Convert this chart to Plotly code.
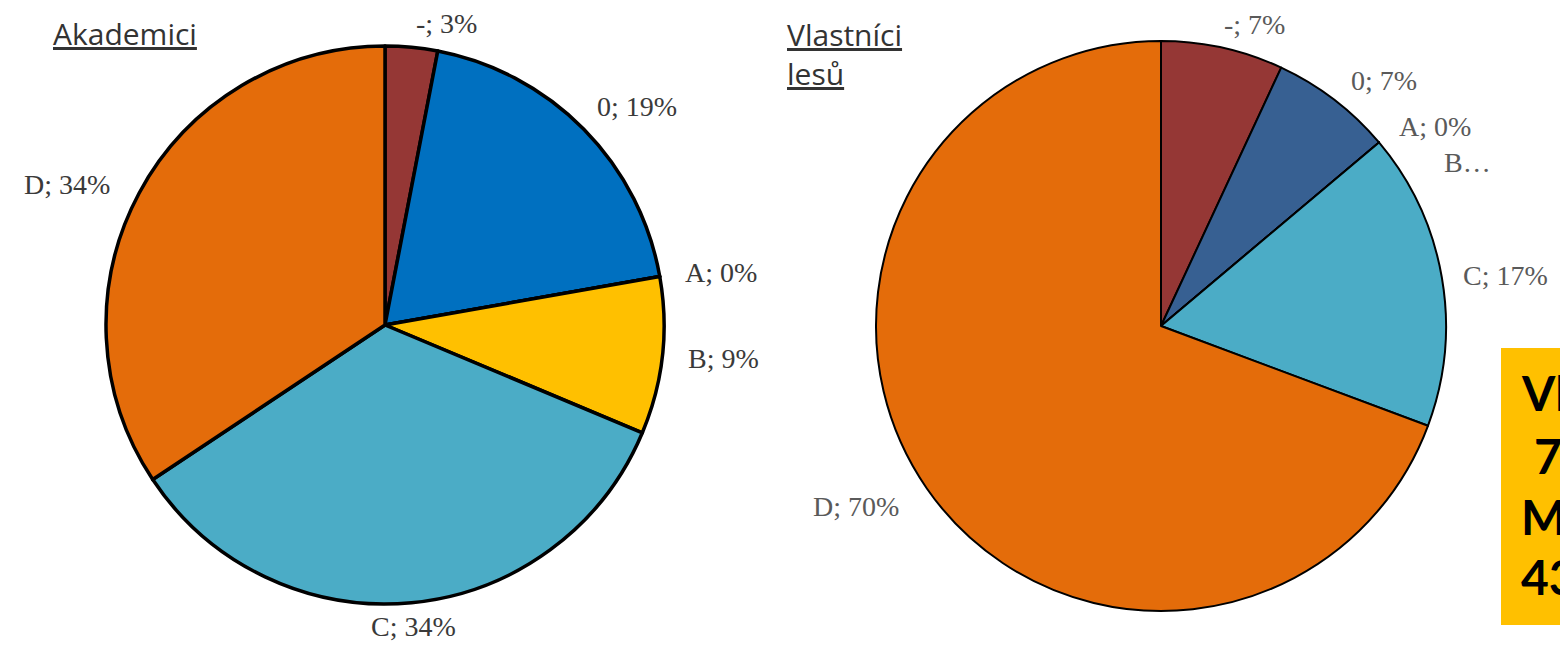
import math
import plotly.graph_objects as go

W, H = 1560, 646

# ---- data ----
categories = ["-", "0", "A", "B", "C", "D"]
akademici_values = [3, 19, 0, 9, 34, 34]
vlastnici_values = [7, 7, 0, 0, 17, 70]
vlastnici_hidden_label = {"B": "B…"}   # truncated label as in the original

akademici_title = "Akademici"
vlastnici_title = ["Vlastníci", "lesů"]
box_lines = ["Vlastníci", "70 %", "Malí", "43 %"]

akademici_colors = ["#953735", "#0070C0", "#FFC000", "#FFC000", "#4BACC6", "#E46C0A"]
vlastnici_colors = ["#953735", "#376092", "#8EB4E3", "#4BACC6", "#4BACC6", "#E46C0A"]


def px_x(x):
    return x / W


def px_y(y):
    return 1 - y / H


def pie_domain(cx, cy, r):
    return dict(x=[px_x(cx - r), px_x(cx + r)], y=[px_y(cy + r), px_y(cy - r)])


fig = go.Figure()

L = dict(cx=385, cy=325, r=279)
R = dict(cx=1161, cy=326, r=285)

fig.add_trace(go.Pie(
    labels=categories, values=akademici_values, sort=False, direction="clockwise",
    rotation=0, textinfo="none", hoverinfo="label+percent",
    marker=dict(colors=akademici_colors, line=dict(color="black", width=3.5)),
    domain=pie_domain(L["cx"], L["cy"], L["r"]), showlegend=False,
))
fig.add_trace(go.Pie(
    labels=categories, values=vlastnici_values, sort=False, direction="clockwise",
    rotation=0, textinfo="none", hoverinfo="label+percent",
    marker=dict(colors=vlastnici_colors, line=dict(color="black", width=2)),
    domain=pie_domain(R["cx"], R["cy"], R["r"]), showlegend=False,
))

annotations = []


def add_labels(values, geo, offset, color, hidden=None, nudges=None):
    total = sum(values)
    cum = 0
    for cat, v in zip(categories, values):
        mid = (cum + v / 2) / total * 2 * math.pi
        cum += v
        s, c = math.sin(mid), math.cos(mid)
        rr = geo["r"] + offset
        x = geo["cx"] + rr * s
        y = geo["cy"] - rr * c
        if nudges and cat in nudges:
            x += nudges[cat][0]
            y += nudges[cat][1]
        if abs(s) < 0.15 and c < 0:
            xa = "center"
        elif s >= 0:
            xa = "left"
        else:
            xa = "right"
        text = f"{cat}; {v}%"
        if hidden and cat in hidden:
            text = hidden[cat]
        annotations.append(dict(
            x=px_x(x), y=px_y(y), xref="paper", yref="paper", text=text,
            showarrow=False, xanchor=xa, yanchor="middle",
            font=dict(family="Liberation Serif", size=28, color=color),
        ))


add_labels(akademici_values, L, 24, "#3a3a3a", nudges={"D": (-6, 3), "0": (-6, -6)})
add_labels(vlastnici_values, R, 24, "#5a5a5a", hidden=vlastnici_hidden_label,
           nudges={"B": (45, 36), "-": (-6, 0), "D": (-6, 4), "C": (-4, 2)})

# titles
annotations.append(dict(
    x=px_x(51), y=px_y(33), xref="paper", yref="paper", text=f"<u>{akademici_title}</u>",
    showarrow=False, xanchor="left", yanchor="middle",
    font=dict(family="Open Sans", size=30, color="#333333"),
))
annotations.append(dict(
    x=px_x(785), y=px_y(54), xref="paper", yref="paper",
    text="<br>".join(f"<u>{t}</u>" for t in vlastnici_title),
    showarrow=False, xanchor="left", yanchor="middle", align="left",
    font=dict(family="Open Sans", size=30, color="#333333"),
))

# yellow box (cut off at the right edge, as in the original)
shapes = [dict(type="rect", xref="paper", yref="paper",
               x0=px_x(1501), x1=px_x(1700), y0=px_y(625), y1=px_y(348),
               fillcolor="#FFC000", line=dict(width=0), layer="below")]
line_y = [392, 455, 516, 576]
line_x = [1519, 1532, 1519, 1519]
for t, xx, yy in zip(box_lines, line_x, line_y):
    annotations.append(dict(
        x=px_x(xx), y=px_y(yy), xref="paper", yref="paper", text=f"<b>{t}</b>",
        showarrow=False, xanchor="left", yanchor="middle",
        font=dict(family="Lato", size=48, color="black"),
    ))

fig.update_layout(
    width=W, height=H, margin=dict(l=0, r=0, t=0, b=0),
    paper_bgcolor="white", plot_bgcolor="white",
    annotations=annotations, shapes=shapes,
)

fig.write_html(
    "out.html",
    config={"displayModeBar": False},
    post_script="document.body.style.margin='0';document.body.style.overflow='hidden';",
)
